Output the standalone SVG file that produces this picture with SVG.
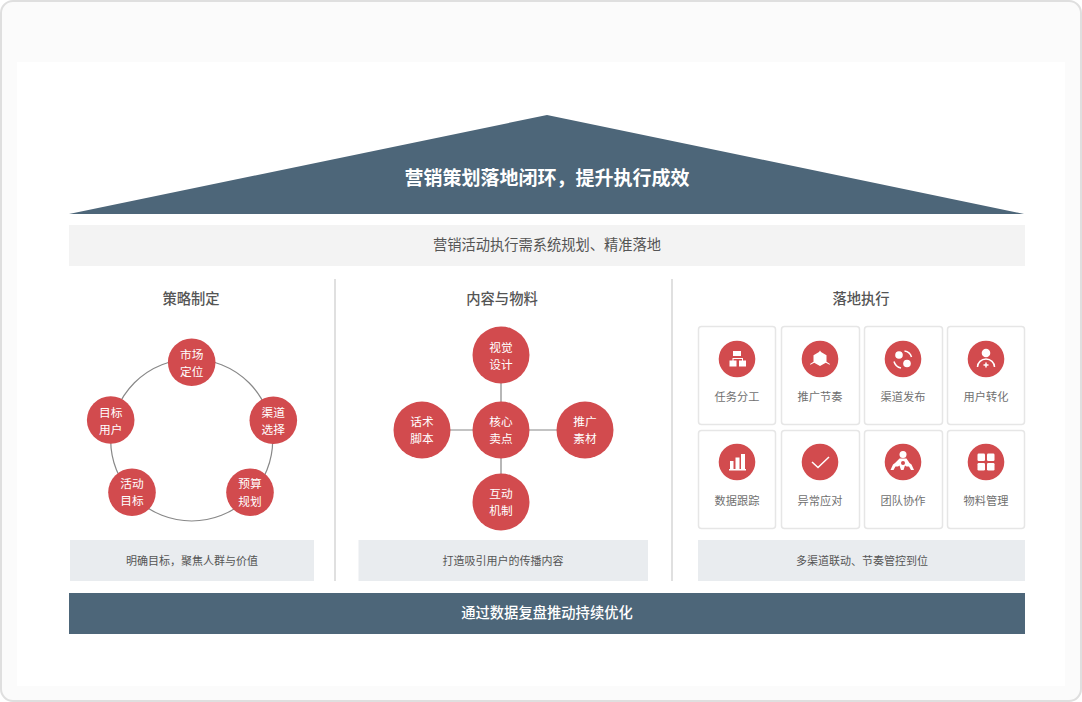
<svg xmlns="http://www.w3.org/2000/svg" width="1082" height="702" viewBox="0 0 1082 702">
<defs><style>
text{font-family:"Noto Sans CJK SC","Noto Sans",sans-serif;text-anchor:middle}
.red{fill:#d24b4e}
.w{fill:#fff;font-size:11.700px}
.h{fill:#555;font-size:14.300px;font-weight:500}
.cap{fill:#555;font-size:11px}
.lab{fill:#707070;font-size:11.200px}
.card{fill:#fff;stroke:#e6e6e6;stroke-width:1.5}
.ln{stroke:#888;stroke-width:1.200;fill:none}
.ic{fill:#fff}
.ics{fill:none;stroke:#fff;stroke-width:1.500}
.div{stroke:#ccc;stroke-width:1.200}
</style></defs>
<rect x="1" y="1" width="1080" height="700" rx="12" fill="#fbfbfb" stroke="#dfdfdf" stroke-width="2"/>
<rect id="canvas" x="17" y="62" width="1048" height="624" fill="#fff"/>
<g id="roof"><polygon points="547,115 1024,214 69,214" fill="#4d6679"/><text x="547" y="185" fill="#fff" font-size="19" font-weight="700">营销策划落地闭环，提升执行成效</text></g>
<g id="subtitle"><rect x="69" y="225" width="956" height="41" fill="#f3f3f3"/><text x="547" y="250" fill="#555" font-size="14.250">营销活动执行需系统规划、精准落地</text></g>
<line class="div" x1="335" y1="279" x2="335" y2="581"/><line class="div" x1="672" y1="279" x2="672" y2="581"/>
<text class="h" x="191" y="304">策略制定</text><text class="h" x="502" y="304">内容与物料</text><text class="h" x="861" y="304">落地执行</text>
<g id="connectors">
<circle class="ln" cx="191.700" cy="440" r="81"/>
<path class="ln" d="M501 355V502M422 430H585"/>
</g>
<g id="n-scdw"><circle class="red" cx="191.700" cy="362.300" r="23.800"/><text class="w" x="191.700" y="359">市场</text><text class="w" x="191.700" y="376">定位</text></g>
<g id="n-qdxz"><circle class="red" cx="273.300" cy="420.300" r="23.800"/><text class="w" x="273.300" y="417">渠道</text><text class="w" x="273.300" y="434">选择</text></g>
<g id="n-ysgh"><circle class="red" cx="250" cy="492.300" r="23.800"/><text class="w" x="250" y="488">预算</text><text class="w" x="250" y="506">规划</text></g>
<g id="n-hdmb"><circle class="red" cx="132" cy="492.300" r="23.800"/><text class="w" x="132" y="488">活动</text><text class="w" x="132" y="505">目标</text></g>
<g id="n-mbyh"><circle class="red" cx="110.700" cy="420" r="23.800"/><text class="w" x="110.700" y="417">目标</text><text class="w" x="110.700" y="434">用户</text></g>
<g id="n-sjsj"><circle class="red" cx="501" cy="355" r="28.500"/><text class="w" x="501" y="352">视觉</text><text class="w" x="501" y="369">设计</text></g>
<g id="n-hsjb"><circle class="red" cx="422" cy="430" r="28.500"/><text class="w" x="422" y="426">话术</text><text class="w" x="422" y="443">脚本</text></g>
<g id="n-hxmd"><circle class="red" cx="501" cy="430" r="28.500"/><text class="w" x="501" y="426">核心</text><text class="w" x="501" y="443">卖点</text></g>
<g id="n-tgsc"><circle class="red" cx="585" cy="430" r="28.500"/><text class="w" x="585" y="426">推广</text><text class="w" x="585" y="443">素材</text></g>
<g id="n-hdjz"><circle class="red" cx="501" cy="502" r="28.500"/><text class="w" x="501" y="498">互动</text><text class="w" x="501" y="515">机制</text></g>

<g id="c1"><rect class="card" x="698.500" y="326.500" width="77" height="98" rx="3"/><circle class="red" cx="737" cy="359" r="18.300"/><path class="ic" d="M733 351h8v5h-3.200v2h5.200v2.500h3v6h-7v-6h3v-1.500h-8.500v1.500h3v6h-7v-6h3v-2.500h5.300v-2h-4.800z"/><text class="lab" x="737" y="401">任务分工</text></g>
<g id="c2"><rect class="card" x="781.500" y="326.500" width="78" height="98" rx="3"/><circle class="red" cx="820" cy="359" r="18.300"/><path class="ic" d="M820 350.500l1 1.500 5.500 3.200v6.600l3.500 2.200-.4.700-3.800-1.900-5.800 3.300-5.800-3.300-3.800 1.900-.4-.7 3.500-2.200v-6.600l5.500-3.200z"/><text class="lab" x="820" y="401">推广节奏</text></g>
<g id="c3"><rect class="card" x="864.500" y="326.500" width="78" height="98" rx="3"/><circle class="red" cx="903" cy="359" r="18.300"/><circle class="ic" cx="899" cy="355" r="3.800"/><circle class="ic" cx="907" cy="363.500" r="3.800"/><path class="ics" d="M904.500 351a8.500 8.500 0 0 1 7 6M894 361.500a9 9 0 0 0 7 6.500"/><text class="lab" x="903" y="401">渠道发布</text></g>
<g id="c4"><rect class="card" x="947.500" y="326.500" width="77" height="98" rx="3"/><circle class="red" cx="986" cy="359" r="18.300"/><circle class="ic" cx="986" cy="353" r="4.300"/><path class="ics" d="M977.500 367a8.500 8 0 0 1 17 0M986 362.500v5M983.500 365h5"/><text class="lab" x="986" y="401">用户转化</text></g>
<g id="c5"><rect class="card" x="698.500" y="430.500" width="77" height="98" rx="3"/><circle class="red" cx="737" cy="462" r="18.300"/><path class="ic" d="M730 461h3.500v8h-3.500zM735.500 457.500h4v11.500h-4zM741 454h4v15h-4zM729 469h17v1.500h-17z"/><text class="lab" x="737" y="505">数据跟踪</text></g>
<g id="c6"><rect class="card" x="781.500" y="430.500" width="78" height="98" rx="3"/><circle class="red" cx="820" cy="462" r="18.300"/><path class="ics" d="M812 462l6 5.500 11-10.500"/><text class="lab" x="820" y="505">异常应对</text></g>
<g id="c7"><rect class="card" x="864.500" y="430.500" width="78" height="98" rx="3"/><circle class="red" cx="903" cy="462" r="18.300"/><circle class="ic" cx="903" cy="454.500" r="3.500"/><path class="ic" d="M899.500 458.500h7l3 4.500 2 1.500 2.500 5.500h-3l-2-3.500h-2.500l-1.500-1-1.500 4.500h-2.500l-1.500-4.500-1.500 1h-2.500l-2 3.500h-3l2.500-5.500 2-1.500z"/><circle class="red" cx="903" cy="463" r="2"/><text class="lab" x="903" y="505">团队协作</text></g>
<g id="c8"><rect class="card" x="947.500" y="430.500" width="77" height="98" rx="3"/><circle class="red" cx="986" cy="462" r="18.300"/><g class="ic"><rect x="977.500" y="453.500" width="7.500" height="7.500" rx="1.200"/><rect x="987" y="453.500" width="7.500" height="7.500" rx="1.200"/><rect x="977.500" y="463" width="7.500" height="7.500" rx="1.200"/><rect x="987" y="463" width="7.500" height="7.500" rx="1.200"/></g><text class="lab" x="986" y="505">物料管理</text></g>

<g id="cap1"><rect x="70" y="540" width="244" height="41" fill="#e9ecef"/><text class="cap" x="192" y="565">明确目标，聚焦人群与价值</text></g>
<g id="cap2"><rect x="358.500" y="540" width="289.500" height="41" fill="#e9ecef"/><text class="cap" x="503" y="565">打造吸引用户的传播内容</text></g>
<g id="cap3"><rect x="698" y="540" width="327" height="41" fill="#e9ecef"/><text class="cap" x="862" y="565">多渠道联动、节奏管控到位</text></g>
<g id="footer"><rect x="69" y="593" width="956" height="41" fill="#4d6679"/><text x="547" y="618" fill="#fff" font-size="14.300" font-weight="500">通过数据复盘推动持续优化</text></g>
</svg>
